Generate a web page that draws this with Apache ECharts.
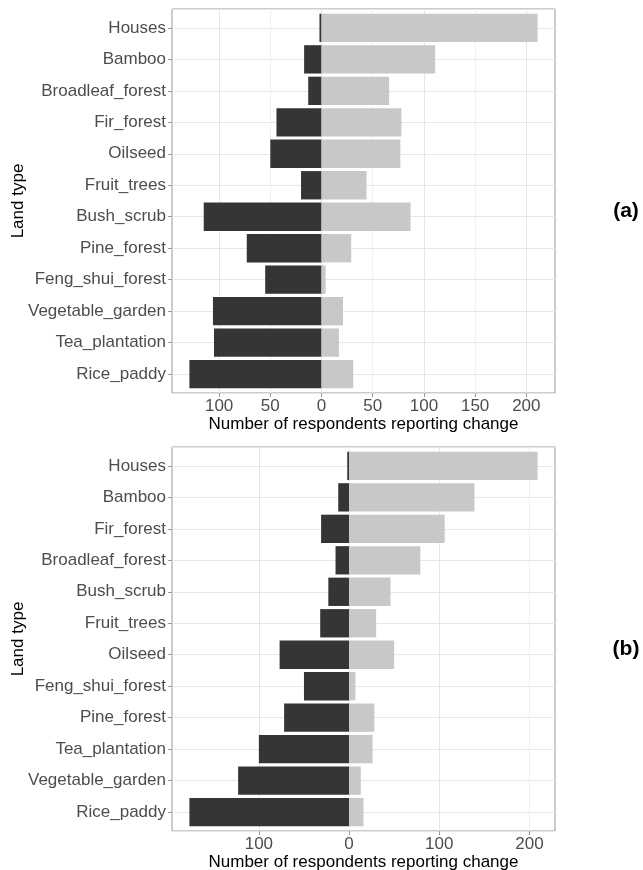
<!DOCTYPE html>
<html>
<head>
<meta charset="utf-8">
<script src="https://cdn.jsdelivr.net/npm/echarts@6/dist/echarts.min.js"></script>
<style>
html,body{margin:0;padding:0;background:#fff;}
#chart{width:643px;height:870px;}
</style>
</head>
<body>
<div id="chart"></div>
<script>
// ---- Data ----
const categoriesA = ['Houses','Bamboo','Broadleaf_forest','Fir_forest','Oilseed','Fruit_trees','Bush_scrub','Pine_forest','Feng_shui_forest','Vegetable_garden','Tea_plantation','Rice_paddy'];
const decreaseA = [-2,-17,-13,-44,-50,-20,-115,-73,-55,-106,-105,-129];
const increaseA = [211,111,66,78,77,44,87,29,4,21,17,31];
const ticksA = [-100,-50,0,50,100,150,200];

const categoriesB = ['Houses','Bamboo','Fir_forest','Broadleaf_forest','Bush_scrub','Fruit_trees','Oilseed','Feng_shui_forest','Pine_forest','Tea_plantation','Vegetable_garden','Rice_paddy'];
const decreaseB = [-2,-12,-31,-15,-23,-32,-77,-50,-72,-100,-123,-177];
const increaseB = [209,139,106,79,46,30,50,7,28,26,13,16];
const ticksB = [-100,0,100,200];

const panelLabels = ['(a)','(b)'];
const xTitle = 'Number of respondents reporting change';
const yTitle = 'Land type';

// ---- Styling ----
const FONT = 'Liberation Sans, Arial, Helvetica, sans-serif';
const DARK = '#353535';
const LIGHT = '#c8c8c8';
const GRID_MAJOR = '#e6e6e6';
const GRID_MINOR = '#f0f0f0';
const BORDER = '#999999';

const panels = [
  {cats: categoriesA, neg: decreaseA, pos: increaseA, ticks: ticksA, step: 25, top: 9},
  {cats: categoriesB, neg: decreaseB, pos: increaseB, ticks: ticksB, step: 50, top: 447}
];
const LEFT = 172, WIDTH = 383, HEIGHT = 384;

function expandRange(neg, pos) {
  const lo = Math.min(...neg), hi = Math.max(...pos);
  const r = hi - lo;
  return [lo - 0.05 * r, hi + 0.05 * r];
}

const grids = [], xAxes = [], yAxes = [], series = [], graphics = [];
panels.forEach((p, i) => {
  const n = p.cats.length;
  const band = HEIGHT / (n + 0.2);
  const [xmin, xmax] = expandRange(p.neg, p.pos);
  const fg = grids.length;
  // frame grid
  grids.push({left: LEFT, width: WIDTH, top: p.top, height: HEIGHT, show: true,
    borderColor: BORDER, borderWidth: 1, backgroundColor: 'transparent', containLabel: false, outerBoundsMode: 'none'});
  // bar grid
  grids.push({left: LEFT, width: WIDTH, top: p.top + 0.1 * band, height: n * band, show: false, containLabel: false, outerBoundsMode: 'none'});
  const bg = fg + 1;
  xAxes.push({
    gridIndex: fg, type: 'value', min: xmin, max: xmax, position: 'bottom',
    minInterval: p.step, maxInterval: p.step, splitNumber: 20,
    axisLine: {show: false, onZero: false},
    axisTick: {show: true, customValues: p.ticks, length: 4, lineStyle: {color: BORDER}},
    axisLabel: {customValues: p.ticks, formatter: v => String(Math.abs(v)), fontSize: 17, color: '#4d4d4d', fontFamily: FONT, margin: 5},
    splitLine: {show: true, lineStyle: {color: [GRID_MAJOR, GRID_MINOR], width: 1}},
    name: xTitle, nameLocation: 'middle', nameGap: 23,
    nameTextStyle: {fontSize: 17, color: '#000', fontFamily: FONT}
  });
  xAxes.push({gridIndex: bg, type: 'value', min: xmin, max: xmax, show: false});
  yAxes.push({
    gridIndex: fg, type: 'value', min: -0.6, max: n - 1 + 0.6, position: 'left',
    minInterval: 1, maxInterval: 1, splitNumber: n,
    axisLine: {show: false, onZero: false}, axisTick: {show: false}, axisLabel: {show: false},
    splitLine: {show: true, lineStyle: {color: GRID_MAJOR, width: 1}},
    name: yTitle, nameLocation: 'middle', nameGap: 145, nameRotate: 90,
    nameTextStyle: {fontSize: 17, color: '#000', fontFamily: FONT}
  });
  yAxes.push({
    gridIndex: bg, type: 'category', data: p.cats, inverse: true, position: 'left',
    axisLine: {show: false, onZero: false},
    axisTick: {show: true, alignWithLabel: true, length: 4, lineStyle: {color: BORDER}},
    axisLabel: {interval: 0, fontSize: 17, color: '#4d4d4d', fontFamily: FONT, margin: 6},
    splitLine: {show: false}
  });
  const xi = xAxes.length - 1, yi = yAxes.length - 1;
  series.push({type: 'bar', xAxisIndex: xi, yAxisIndex: yi, data: p.neg,
    barGap: '-100%', barCategoryGap: '10%', itemStyle: {color: DARK}, silent: true});
  series.push({type: 'bar', xAxisIndex: xi, yAxisIndex: yi, data: p.pos,
    barGap: '-100%', barCategoryGap: '10%', itemStyle: {color: LIGHT}, silent: true});
  graphics.push({type: 'text', x: 626, y: p.top + HEIGHT / 2 + 10, style: {
    text: panelLabels[i], font: 'bold 21px ' + FONT, fill: '#000', align: 'center', verticalAlign: 'middle'}});
});

const chart = echarts.init(document.getElementById('chart'), null, {renderer: 'canvas'});
chart.setOption({
  animation: false,
  backgroundColor: '#ffffff',
  grid: grids, xAxis: xAxes, yAxis: yAxes, series: series,
  graphic: graphics
});
</script>
</body>
</html>
